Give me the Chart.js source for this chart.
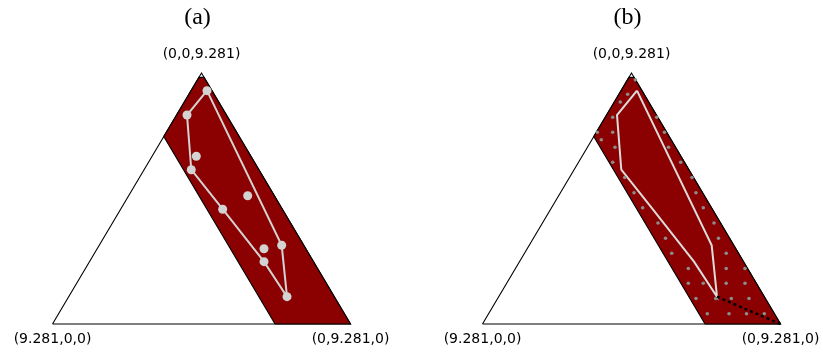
<!DOCTYPE html>
<html>
<head>
<meta charset="UTF-8" />
<title>Ternary bands</title>
<script src="https://cdn.jsdelivr.net/npm/chart.js@4.4.0/dist/chart.umd.min.js"></script>
<style>
  html, body { margin: 0; padding: 0; background: #fff; }
  #wrap { position: relative; width: 823px; height: 352px; }
  canvas { position: absolute; top: 0; }
</style>
</head>
<body>
<div id="wrap">
  <canvas id="chart-a" width="412" height="352" style="left:0"></canvas>
  <canvas id="chart-b" width="411" height="352" style="left:412px"></canvas>
</div>
<script>
// ternary total and vertex labels
const TOTAL = 9.281;
const vertexLabels = ["(9.281,0,0)", "(0,9.281,0)", "(0,0,9.281)"];
const panelTitles = ["(a)", "(b)"];

// band: first component <= bandMaxA, third component <= bandMaxC
const bandMaxA = 2.35;
const bandMaxC = 9.12;

// (a) sampled points, components 2 and 3
const ptsB = [0.498, 0.325, 1.378, 1.470, 3.707, 3.178, 5.195, 5.683, 5.435, 6.798];
const ptsC = [8.627, 7.728, 6.201, 5.705, 4.744, 4.245, 2.784, 2.910, 2.304, 1.010];
const hullOrder = [0, 1, 3, 5, 8, 9, 7];

// (b) grid points, components 2 and 3
const gridB = [0.242, 0.275, 0.187, 0.233, 1.604, 0.510, 0.031, 2.124, 0.293, 0.859,
  2.526, 1.065, 3.183, 1.721, 3.816, 2.291, 4.221, 2.839, 4.726, 3.598,
  5.342, 4.115, 5.765, 4.586, 6.283, 5.383, 6.564, 7.149, 5.657, 6.124,
  6.837, 7.423, 6.177, 6.792, 7.277, 7.828, 6.811, 7.487, 8.032, 8.586];
const gridC = [9.033, 8.493, 8.209, 7.643, 7.643, 7.088, 7.088, 7.088, 6.815, 6.534,
  6.534, 5.979, 5.979, 5.417, 5.417, 4.855, 4.855, 4.300, 4.300, 3.735,
  3.735, 3.169, 3.169, 2.614, 2.614, 2.052, 2.052, 2.052, 1.505, 1.505,
  1.505, 1.505, 0.943, 0.943, 0.943, 0.943, 0.381, 0.381, 0.381, 0.381];

// (b) dotted segment toward the second vertex
const segB = [6.798, 9.281];
const segC = [1.010, 0];

// ternary (b, c) -> plot coordinates
const toXY = (b, c) => ({ x: b + c / 2, y: c });
const zipXY = (bs, cs) => bs.map((b, i) => toXY(b, cs[i]));

const triangle = zipXY([0, TOTAL, 0, 0], [0, 0, TOTAL, 0]);
const bandPoly = zipXY(
  [TOTAL - bandMaxA, TOTAL, TOTAL - bandMaxC, 0, 0, TOTAL - bandMaxA],
  [0, 0, bandMaxC, bandMaxC, TOTAL - bandMaxA, 0]
);
const hull = [...hullOrder, hullOrder[0]].map(i => toXY(ptsB[i], ptsC[i]));

const labelPlugin = {
  id: "ternaryLabels",
  afterDraw(chart, args, opts) {
    const { ctx, scales: { x, y } } = chart;
    const vx = [x.getPixelForValue(0), x.getPixelForValue(TOTAL), x.getPixelForValue(TOTAL / 2)];
    const vy = [y.getPixelForValue(0), y.getPixelForValue(0), y.getPixelForValue(TOTAL)];
    ctx.save();
    ctx.fillStyle = "#000";
    ctx.textAlign = "center";
    ctx.textBaseline = "middle";
    ctx.font = "14px 'DejaVu Sans'";
    ctx.fillText(vertexLabels[0], vx[0], vy[0] + 15);
    ctx.fillText(vertexLabels[1], vx[1], vy[1] + 15);
    ctx.fillText(vertexLabels[2], vx[2], vy[2] - 19);
    ctx.font = "24px 'Liberation Serif'";
    ctx.fillText(opts.title, vx[2] - 4, 18);
    ctx.restore();
  },
};

const baseSets = [
  { data: triangle, showLine: true, borderColor: "#000", borderWidth: 1.1, pointRadius: 0, fill: false, order: 9 },
  { data: bandPoly, showLine: true, borderColor: "#000", borderWidth: 1.1, backgroundColor: "#8B0000", pointRadius: 0, fill: "shape", order: 8 },
];

function makeChart(id, title, padLeft, padRight, extra) {
  return new Chart(document.getElementById(id), {
    type: "scatter",
    data: { datasets: [...baseSets, ...extra].map(d => ({ clip: false, tension: 0, ...d })) },
    options: {
      responsive: false,
      animation: false,
      events: [],
      layout: { padding: { left: padLeft, right: padRight, top: 73, bottom: 28 } },
      scales: {
        x: { type: "linear", min: 0, max: TOTAL, display: false },
        y: { type: "linear", min: 0, max: TOTAL, display: false },
      },
      plugins: { legend: { display: false }, tooltip: { enabled: false }, ternaryLabels: { title } },
    },
    plugins: [labelPlugin],
  });
}

makeChart("chart-a", panelTitles[0], 52.5, 61.5, [
  { data: hull, showLine: true, borderColor: "#D3D3D3", borderWidth: 2, pointRadius: 0, fill: false, order: 2 },
  { data: zipXY(ptsB, ptsC), showLine: false, pointRadius: 4.5, pointBackgroundColor: "#D3D3D3", pointBorderWidth: 0, order: 1 },
]);

makeChart("chart-b", panelTitles[1], 70.5, 42.5, [
  { data: hull, showLine: true, borderColor: "#DCDCDC", borderWidth: 2, pointRadius: 0, fill: false, order: 3 },
  { data: zipXY(gridB, gridC), showLine: false, pointRadius: 1.8, pointBackgroundColor: "#8C8C8C", pointBorderWidth: 0, order: 2 },
  { data: zipXY(segB, segC), showLine: true, borderColor: "#000", borderWidth: 2.5, borderDash: [3, 3], pointRadius: 0, fill: false, order: 1 },
]);
</script>
</body>
</html>
